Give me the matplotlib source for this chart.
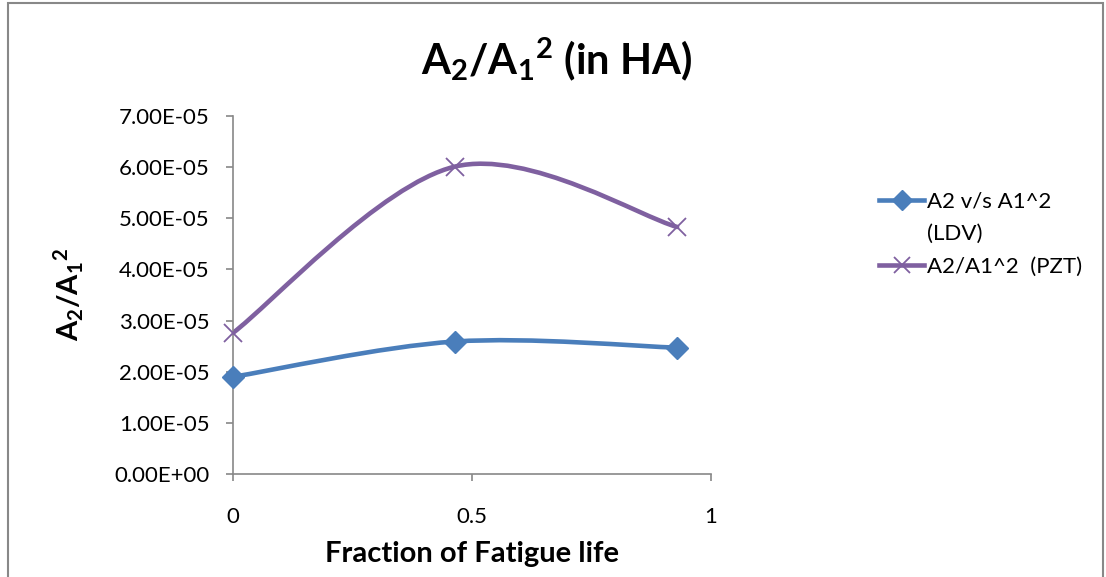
import numpy as np
import matplotlib
matplotlib.use("Agg")
import matplotlib.pyplot as plt
from matplotlib.path import Path
from matplotlib.patches import PathPatch, Rectangle
from matplotlib.lines import Line2D
from matplotlib.ticker import FormatStrFormatter

plt.rcParams['font.family'] = ['Lato', 'DejaVu Sans']
plt.rcParams['mathtext.fontset'] = 'custom'
plt.rcParams['mathtext.rm'] = 'Lato'
plt.rcParams['mathtext.bf'] = 'Lato:bold'

# fatigue life fraction and the two amplitude ratios
fatigue_frac = [0.0, 0.464, 0.929]
ratio_ldv = [1.90e-5, 2.59e-5, 2.47e-5]
ratio_pzt = [2.76e-5, 6.01e-5, 4.83e-5]
labels = ["A2 v/s A1^2", "(LDV)", "A2/A1^2  (PZT)"]
yticks = [0, 1e-5, 2e-5, 3e-5, 4e-5, 5e-5, 6e-5, 7e-5]
xticks = [0, 0.5, 1]

BLUE = "#4A7EBB"
PURPLE = "#7F60A0"
AXIS_GRAY = "#888888"


def smooth_path(xs, ys):
    """Bezier path through the points, tangents like a spreadsheet smoothed line."""
    pts = np.column_stack([xs, ys])
    n = len(pts)
    verts = [pts[0]]
    codes = [Path.MOVETO]
    for i in range(n - 1):
        p0 = pts[max(i - 1, 0)]
        p1 = pts[i]
        p2 = pts[i + 1]
        p3 = pts[min(i + 2, n - 1)]
        c1 = p1 + (p2 - p0) / 6.0
        c2 = p2 - (p3 - p1) / 6.0
        verts += [c1, c2, p2]
        codes += [Path.CURVE4] * 3
    return Path(verts, codes)


fig = plt.figure(figsize=(11.06, 5.77), dpi=100)
ax = fig.add_axes([0.2107, 0.1785, 0.4322, 0.6205])

for ys, color, marker, ms in [(ratio_ldv, BLUE, "D", 11), (ratio_pzt, PURPLE, "x", 13)]:
    ax.add_patch(PathPatch(smooth_path(fatigue_frac, ys), fill=False,
                           edgecolor=color, lw=3.3, capstyle="round", zorder=2))
    ax.plot(fatigue_frac, ys, linestyle="none", marker=marker, ms=ms, color=color,
            mew=1.3 if marker == "x" else 1, zorder=3, clip_on=False)

ax.set_xlim(0, 1)
ax.set_ylim(0, 7e-5)
ax.set_xticks(xticks)
ax.set_xticklabels(["0", "0.5", "1"])
ax.set_yticks(yticks)
ax.yaxis.set_major_formatter(FormatStrFormatter("%.2E"))

for side in ["top", "right"]:
    ax.spines[side].set_visible(False)
for side in ["left", "bottom"]:
    ax.spines[side].set_color(AXIS_GRAY)
    ax.spines[side].set_linewidth(1.2)
ax.tick_params(axis="both", colors=AXIS_GRAY, labelcolor="black", labelsize=16,
               length=5, width=1.2, direction="out")
ax.tick_params(axis="y", pad=12)
ax.tick_params(axis="x", pad=19)

ax.set_xlabel("Fraction of Fatigue life", fontsize=21, fontweight="bold", labelpad=10)
ax.set_ylabel(r"$\mathbf{A_2/{A_1}^2}$", fontsize=21, labelpad=20)
fig.text(0.503, 0.897, r"$\mathbf{A_2/{A_1}^2}$ (in HA)", fontsize=30,
         fontweight="bold", ha="center", va="center")

# the LDV label wraps onto a second row with no symbol of its own
handles = [
    Line2D([], [], color=BLUE, lw=3.3, marker="D", ms=10),
    Line2D([], [], alpha=0),
    Line2D([], [], color=PURPLE, lw=3.3, marker="x", ms=12, mew=1.3),
]
leg = fig.legend(handles, labels, loc="upper left", bbox_to_anchor=(0.777, 0.702),
                 frameon=False, fontsize=16, handlelength=2.0, handletextpad=0.15,
                 labelspacing=0.55, alignment="left")

# outer chart border
fig.add_artist(Rectangle((0.0075, -0.05), 0.9895, 1.045, transform=fig.transFigure,
                         fill=False, edgecolor=AXIS_GRAY, lw=1.5))

fig.savefig("out.png", dpi=100)
